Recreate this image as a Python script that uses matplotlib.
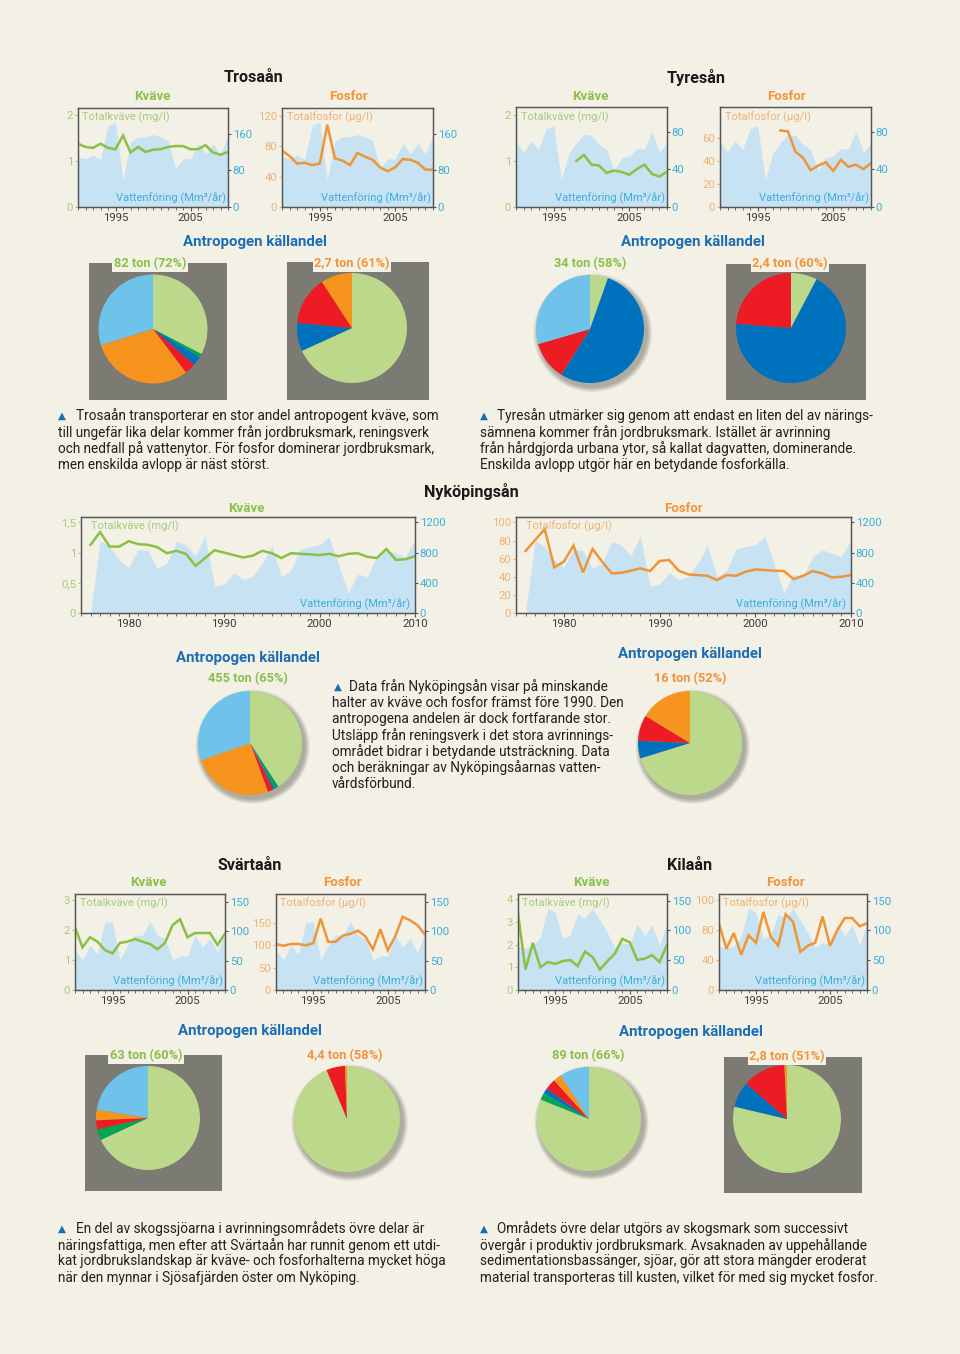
import matplotlib
matplotlib.use('Agg')
import matplotlib.pyplot as plt
from matplotlib.patches import Rectangle, Circle

plt.rcParams['font.family'] = ['Roboto', 'DejaVu Sans']

# ---------------- data ----------------
years = list(range(1990, 2011))
nyk_years = list(range(1976, 2011))

trosa_flow = [109, 105, 113, 104, 178, 185, 58, 142, 153, 153, 158, 153, 145, 84, 105, 105, 138, 116, 138, 116, 156]
trosa_n = [1.38, 1.31, 1.29, 1.38, 1.29, 1.26, 1.56, 1.19, 1.31, 1.20, 1.25, 1.26, 1.31, 1.33, 1.33, 1.26, 1.26, 1.35, 1.19, 1.14, 1.20]
trosa_p = [74, 67, 57, 58, 55, 57, 108, 64, 61, 55, 71, 66, 62, 52, 47, 52, 63, 62, 58, 49, 49]

tyres_flow = [69, 58, 70, 61, 83, 86, 29, 57, 68, 77, 76, 66, 61, 39, 52, 54, 62, 61, 80, 58, 68]
tyres_conc_years = list(range(1998, 2011))
tyres_n = [1.00, 1.13, 0.92, 0.90, 0.74, 0.79, 0.76, 0.70, 0.82, 0.92, 0.72, 0.66, 0.77]
tyres_p = [66.6, 65.7, 48.0, 42.9, 32.0, 36.0, 39.0, 31.4, 41.0, 35.0, 36.8, 33.0, 38.3]

nyk_flow = [0, 960, 880, 702, 604, 844, 827, 591, 658, 947, 902, 756, 1022, 356, 382, 533, 444, 480,
            658, 889, 480, 569, 844, 880, 902, 1013, 636, 267, 516, 480, 747, 836, 791, 747, 969]
nyk_n = [1.13, 1.34, 1.10, 1.10, 1.19, 1.14, 1.13, 1.09, 0.99, 1.03, 0.98, 0.78, 0.91, 1.04, 1.00, 0.96,
         0.92, 0.95, 1.03, 0.99, 0.91, 0.99, 0.98, 0.97, 0.96, 0.98, 0.94, 0.98, 0.99, 0.93, 0.91, 1.06,
         0.88, 0.89, 0.94]
nyk_p = [68.5, 80.7, 92.6, 50.4, 56.7, 74.4, 44.8, 70.7, 56.7, 43.7, 44.4, 46.7, 49.3, 46.3, 57.4, 58.5,
         46.7, 42.6, 41.9, 41.1, 36.3, 41.9, 41.1, 45.6, 48.1, 47.4, 46.7, 46.3, 37.4, 41.1, 46.3, 43.7,
         39.3, 40.0, 41.9]

svarta_flow = [67, 52, 76, 61, 116, 116, 52, 76, 94, 93, 117, 93, 88, 52, 58, 58, 94, 73, 88, 64, 99]
svarta_n = [2.10, 1.42, 1.76, 1.61, 1.33, 1.22, 1.57, 1.61, 1.70, 1.61, 1.53, 1.36, 1.57, 2.16, 2.36, 1.76,
            1.90, 1.90, 1.90, 1.50, 1.88]
svarta_p = [103, 99, 103, 103, 100, 105, 160, 108, 108, 122, 126, 133, 120, 91, 136, 89, 120, 164, 156, 145, 124]

kila_flow = [73, 70, 74, 89, 137, 130, 86, 93, 127, 120, 137, 117, 96, 71, 79, 77, 111, 91, 109, 75, 114]
kila_n = [3.37, 0.90, 2.07, 1.00, 1.23, 1.15, 1.27, 1.32, 1.05, 1.69, 1.45, 0.90, 1.27, 1.60, 2.25, 2.10,
          1.32, 1.38, 1.53, 1.23, 1.98]
kila_p = [89, 55, 76, 47, 73, 63, 104, 71, 59, 101, 91, 51, 59, 63, 98, 59, 80, 96, 96, 85, 89]

# source shares (%), order: jordbruksmark, industri, dagvatten, enskilda avlopp, reningsverk, nedfall
sources = ['Jordbruksmark', 'Industri', 'Dagvatten', 'Enskilda avlopp', 'Reningsverk', 'Nedfall på vatten']
trosa_n_pie = [32.6, 1.1, 2.7, 3.3, 30.5, 29.8]
trosa_p_pie = [68.2, 0, 8.3, 14.3, 9.2, 0]
tyres_n_pie = [5.4, 0, 53.5, 11.6, 0, 29.5]
tyres_p_pie = [7.7, 0, 68.5, 23.8, 0, 0]
nyk_n_pie = [40.8, 1.2, 0.6, 1.8, 25.2, 30.4]
nyk_p_pie = [70.2, 0, 5.5, 8.0, 16.3, 0]
svarta_n_pie = [68.1, 3.4, 0, 2.8, 3.3, 22.4]
svarta_p_pie = [93.7, 0, 0, 5.7, 0.6, 0]
kila_n_pie = [81.1, 2.1, 1.7, 3.4, 2.5, 9.2]
kila_p_pie = [78.7, 0, 7.7, 12.8, 0.8, 0]

pie_labels = {
    'trosa_n': '82 ton (72%)', 'trosa_p': '2,7 ton (61%)',
    'tyres_n': '34 ton (58%)', 'tyres_p': '2,4 ton (60%)',
    'nyk_n': '455 ton (65%)', 'nyk_p': '16 ton (52%)',
    'svarta_n': '63 ton (60%)', 'svarta_p': '4,4 ton (58%)',
    'kila_n': '89 ton (66%)', 'kila_p': '2,8 ton (51%)',
}

# ---------------- style ----------------
BG = '#f3f0e6'
GRAY = '#7b7a73'
PIE_COLORS = ['#bbd88b', '#00a651', '#0071bc', '#ed1c24', '#f7941d', '#6fc3ea']
AREA = '#c6e2f3'
N_LINE = '#8cc043'
P_LINE = '#ee9637'
N_TICK = '#a8cb7e'
P_TICK = '#f0b274'
Q_TICK = '#3cb0da'
N_TITLE = '#8cc04a'
P_TITLE = '#f0953b'
BLUE_T = '#1b6db4'
SPINE = '#555555'
XT = '#3a3a3a'
TS = 8.2  # tick label size

W, H = 960, 1354
fig = plt.figure(figsize=(9.6, 13.54), dpi=100)
fig.patch.set_facecolor(BG)


def rect(l, t, r, b):
    return [l / W, 1 - b / H, (r - l) / W, (b - t) / H]


def ftext(x, y, s, **kw):
    kw.setdefault('va', 'center')
    fig.text(x / W, 1 - y / H, s, **kw)


def chart(box, xs, flow, qlim, qticks, cx, conc, clim, cticks, kind,
          xlim=(1990, 2010), xmaj=(1995, 2005), xmin=None, cticklabels=None):
    ax = fig.add_axes(rect(*box))
    ax2 = ax.twinx()
    ax.set_zorder(3)
    ax2.set_zorder(2)
    ax.patch.set_visible(False)
    ax2.patch.set_facecolor('white')
    ax2.fill_between(xs, 0, flow, color=AREA, lw=0)
    col = N_LINE if kind == 'n' else P_LINE
    tcol = N_TICK if kind == 'n' else P_TICK
    ax.plot(cx, conc, color=col, lw=1.8, solid_joinstyle='miter', clip_on=True)
    ax.set_xlim(*xlim)
    ax.set_ylim(*clim)
    ax2.set_ylim(*qlim)
    ax.set_yticks(cticks)
    if cticklabels is not None:
        ax.set_yticklabels(cticklabels)
    ax2.set_yticks(qticks)
    ax.set_xticks(list(xmaj))
    if xmin is None:
        xmin = range(int(xlim[0]), int(xlim[1]) + 1)
    ax.set_xticks(list(xmin), minor=True)
    ax.tick_params(axis='x', which='major', length=3, width=0.8, color=SPINE, labelsize=TS,
                   labelcolor=XT, pad=1.5)
    ax.tick_params(axis='x', which='minor', length=2, width=0.6, color=SPINE)
    ax.tick_params(axis='y', length=2.5, width=0.8, color=tcol, labelcolor=tcol, labelsize=TS, pad=1)
    ax2.tick_params(axis='y', length=2.5, width=0.8, color=SPINE, labelcolor=Q_TICK, labelsize=TS, pad=1)
    for a in (ax, ax2):
        for s in a.spines.values():
            s.set_color(SPINE)
            s.set_linewidth(0.9)
    lab = 'Totalkväve (mg/l)' if kind == 'n' else 'Totalfosfor (µg/l)'
    ax.text(0.03, 0.96, lab, transform=ax.transAxes, ha='left', va='top', fontsize=8, color=tcol)
    ax.text(0.985, 0.03, 'Vattenföring (Mm³/år)', transform=ax.transAxes, ha='right', va='bottom',
            fontsize=8, color=Q_TICK)
    return ax


def pie(cx, cy, r, values, shadow=False):
    pad = 1.25
    half = r * pad
    ax = fig.add_axes(rect(cx - half, cy - half, cx + half, cy + half))
    vals = [v for v in values if v > 0]
    cols = [c for v, c in zip(values, PIE_COLORS) if v > 0]
    if shadow:
        for i in range(7):
            ax.add_patch(Circle((0.05, -0.07), 1.0 + 0.014 * (7 - i), color='#4e4a40',
                                alpha=0.07, lw=0, zorder=0))
    ax.pie(vals, colors=cols, startangle=90, counterclock=False, radius=1,
           wedgeprops=dict(linewidth=0))
    ax.set_xlim(-pad, pad)
    ax.set_ylim(-pad, pad)
    ax.set_aspect('equal')
    ax.axis('off')


def square(l, t, r, b):
    fig.add_artist(Rectangle((l / W, 1 - b / H), (r - l) / W, (b - t) / H,
                             transform=fig.transFigure, facecolor=GRAY, edgecolor='none', zorder=-1))


def plabel(x, y, s, kind, box=False):
    col = N_TITLE if kind == 'n' else P_TITLE
    kw = dict(ha='center', fontsize=9.2, fontweight='bold', color=col)
    if box:
        kw['bbox'] = dict(boxstyle='square,pad=0.12', fc=BG, ec='none')
    ftext(x, y, s, **kw)


def paragraph(x_tri, x_first, x_rest, y0, lines, dy=16.2):
    ftext(x_tri, y0, '▲', fontsize=7.5, color=BLUE_T, family=['DejaVu Sans'], ha='left')
    for i, ln in enumerate(lines):
        ftext(x_first if i == 0 else x_rest, y0 + i * dy, ln, fontsize=9.8, color='#231f20', ha='left')


def heading(x, y, s):
    ftext(x, y, s, ha='center', fontsize=11.6, fontweight='bold', color='#1a1a1a')


def subtitle(x, y, kind):
    if kind == 'n':
        ftext(x, y, 'Kväve', ha='center', fontsize=9.5, fontweight='bold', color=N_TITLE)
    else:
        ftext(x, y, 'Fosfor', ha='center', fontsize=9.5, fontweight='bold', color=P_TITLE)


def anthro(x, y):
    ftext(x, y, 'Antropogen källandel', ha='center', fontsize=10.8, fontweight='bold', color=BLUE_T)


# ================= Trosaån =================
heading(254, 78, 'Trosaån')
subtitle(152, 96, 'n')
subtitle(348, 96, 'p')
chart((78, 108, 228, 207), years, trosa_flow, (0, 216), [0, 80, 160], years, trosa_n, (0, 2.16), [0, 1, 2], 'n')
chart((282, 108, 433, 207), years, trosa_flow, (0, 216), [0, 80, 160], years, trosa_p, (0, 130), [0, 40, 80, 120], 'p')
anthro(255, 242)
square(89, 263, 227, 400)
square(287, 262, 429, 400)
pie(153, 329, 54.5, trosa_n_pie)
pie(352, 328, 55, trosa_p_pie)
plabel(150, 264, pie_labels['trosa_n'], 'n', box=True)
plabel(352, 264, pie_labels['trosa_p'], 'p', box=True)

# ================= Tyresån =================
heading(696, 78, 'Tyresån')
subtitle(590, 96, 'n')
subtitle(786, 96, 'p')
chart((516, 107, 667, 207), years, tyres_flow, (0, 106), [0, 40, 80], tyres_conc_years, tyres_n, (0, 2.17), [0, 1, 2], 'n')
chart((720, 107, 871, 207), years, tyres_flow, (0, 106), [0, 40, 80], tyres_conc_years, tyres_p, (0, 87), [0, 20, 40, 60], 'p')
anthro(693, 242)
square(726, 264, 866, 400)
pie(590, 329, 54, tyres_n_pie, shadow=True)
pie(791, 328, 55, tyres_p_pie)
plabel(590, 264, pie_labels['tyres_n'], 'n')
plabel(790, 264, pie_labels['tyres_p'], 'p', box=True)

paragraph(58, 76, 58, 416, [
    'Trosaån transporterar en stor andel antropogent kväve, som',
    'till ungefär lika delar kommer från jordbruksmark, reningsverk',
    'och nedfall på vattenytor. För fosfor dominerar jordbruksmark,',
    'men enskilda avlopp är näst störst.'])
paragraph(480, 497, 480, 416, [
    'Tyresån utmärker sig genom att endast en liten del av närings-',
    'sämnena kommer från jordbruksmark. Istället är avrinning',
    'från hårdgjorda urbana ytor, så kallat dagvatten, dominerande.',
    'Enskilda avlopp utgör här en betydande fosforkälla.'])

# ================= Nyköpingsån =================
heading(471, 492, 'Nyköpingsån')
subtitle(246, 508, 'n')
subtitle(683, 508, 'p')
chart((81, 517, 415, 613), nyk_years, nyk_flow, (0, 1272), [0, 400, 800, 1200], nyk_years, nyk_n,
      (0, 1.59), [0, 0.5, 1, 1.5], 'n', xlim=(1975, 2010), xmaj=(1980, 1990, 2000, 2010),
      cticklabels=['0', '0,5', '1', '1,5'])
chart((516, 517, 851, 613), nyk_years, nyk_flow, (0, 1272), [0, 400, 800, 1200], nyk_years, nyk_p,
      (0, 106), [0, 20, 40, 60, 80, 100], 'p', xlim=(1975, 2010), xmaj=(1980, 1990, 2000, 2010))
anthro(248, 658)
anthro(690, 654)
pie(250, 743, 52, nyk_n_pie, shadow=True)
pie(690, 743, 52, nyk_p_pie, shadow=True)
plabel(248, 679, pie_labels['nyk_n'], 'n')
plabel(690, 679, pie_labels['nyk_p'], 'p')
paragraph(334, 349, 332, 687, [
    'Data från Nyköpingsån visar på minskande',
    'halter av kväve och fosfor främst före 1990. Den',
    'antropogena andelen är dock fortfarande stor.',
    'Utsläpp från reningsverk i det stora avrinnings-',
    'området bidrar i betydande utsträckning. Data',
    'och beräkningar av Nyköpingsåarnas vatten-',
    'vårdsförbund.'])

# ================= Svärtaån =================
heading(250, 866, 'Svärtaån')
subtitle(148, 882, 'n')
subtitle(342, 882, 'p')
chart((75, 894, 225, 990), years, svarta_flow, (0, 164), [0, 50, 100, 150], years, svarta_n, (0, 3.2), [0, 1, 2, 3], 'n')
chart((276, 894, 425, 990), years, svarta_flow, (0, 164), [0, 50, 100, 150], years, svarta_p, (0, 215), [0, 50, 100, 150], 'p')
anthro(250, 1031)
square(85, 1055, 222, 1191)
pie(148, 1118, 52, svarta_n_pie)
pie(347, 1119, 53, svarta_p_pie, shadow=True)
plabel(146, 1056, pie_labels['svarta_n'], 'n', box=True)
plabel(345, 1056, pie_labels['svarta_p'], 'p')

# ================= Kilaån =================
heading(690, 866, 'Kilaån')
subtitle(591, 882, 'n')
subtitle(785, 882, 'p')
chart((518, 894, 667, 990), years, kila_flow, (0, 161), [0, 50, 100, 150], years, kila_n, (0, 4.22), [0, 1, 2, 3, 4], 'n')
chart((719, 894, 867, 990), years, kila_flow, (0, 161), [0, 50, 100, 150], years, kila_p, (0, 128), [0, 40, 80, 120], 'p',
      cticklabels=['0', '40', '80', '100'])
anthro(691, 1032)
square(724, 1057, 862, 1193)
pie(589, 1119, 52, kila_n_pie, shadow=True)
pie(787, 1119, 54, kila_p_pie)
plabel(588, 1056, pie_labels['kila_n'], 'n')
plabel(787, 1057, pie_labels['kila_p'], 'p', box=True)

paragraph(58, 76, 58, 1229, [
    'En del av skogssjöarna i avrinningsområdets övre delar är',
    'näringsfattiga, men efter att Svärtaån har runnit genom ett utdi-',
    'kat jordbrukslandskap är kväve- och fosforhalterna mycket höga',
    'när den mynnar i Sjösafjärden öster om Nyköping.'])
paragraph(480, 497, 480, 1229, [
    'Områdets övre delar utgörs av skogsmark som successivt',
    'övergår i produktiv jordbruksmark. Avsaknaden av uppehållande',
    'sedimentationsbassänger, sjöar, gör att stora mängder eroderat',
    'material transporteras till kusten, vilket för med sig mycket fosfor.'])

fig.savefig('out.png', dpi=100, facecolor=BG)
